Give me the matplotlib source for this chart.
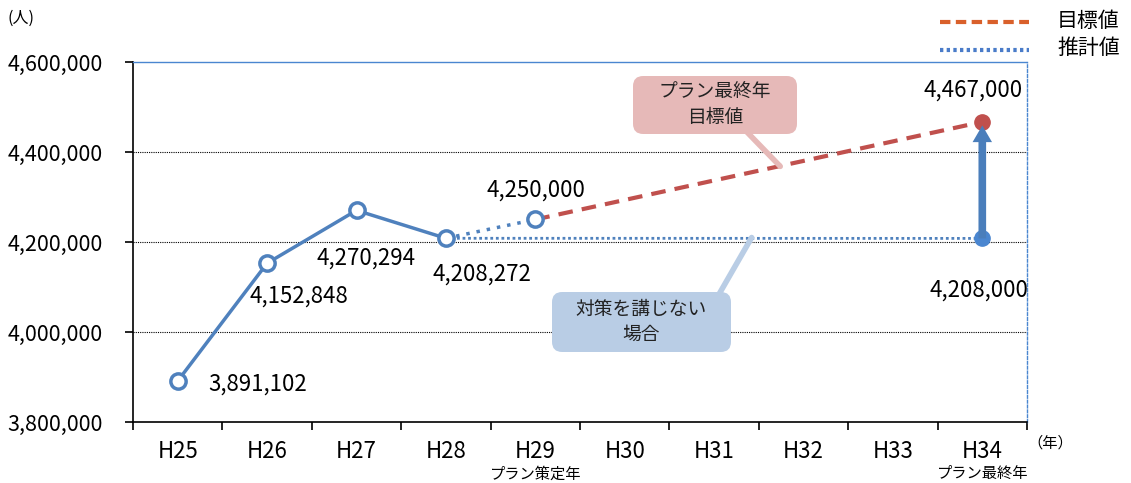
import matplotlib
matplotlib.use("Agg")
import matplotlib.pyplot as plt
from matplotlib.lines import Line2D
from matplotlib.patches import FancyBboxPatch

plt.rcParams['font.family'] = ['Noto Sans CJK JP', 'DejaVu Sans']

# data
years = ['H25', 'H26', 'H27', 'H28', 'H29', 'H30', 'H31', 'H32', 'H33', 'H34']
actual = [3891102, 4152848, 4270294, 4208272]
plan_start = 4250000   # H29
plan_goal = 4467000    # H34
no_action = 4208000    # H34
yticks = [3800000, 4000000, 4200000, 4400000, 4600000]

BLUE = '#4F81BD'
RED = '#C0504D'
W, H = 1131, 483

fig = plt.figure(figsize=(W / 100, H / 100), dpi=100)
ax = fig.add_axes([133 / W, 1 - 422 / H, 894 / W, 360 / H])

x = list(range(len(years)))
ax.set_xlim(-0.5, len(years) - 0.5)
ax.set_ylim(yticks[0], yticks[-1])

# grid
for v in yticks[1:-1]:
    ax.axhline(v, color='black', lw=0.8, ls=(0, (1, 1)), zorder=1)

# actual line
ax.plot(x[:4], actual, color=BLUE, lw=2.5, zorder=3)
# estimate to H29
ax.plot([x[3], x[4]], [actual[3], plan_start], color=BLUE, lw=2.5, ls=(0, (1, 2)), zorder=3)
# no action
ax.plot([x[3], x[9]], [actual[3], no_action], color=BLUE, lw=2, ls=(0, (1, 1)), zorder=3)
# target
ax.plot([x[4], x[9]], [plan_start, plan_goal], color=RED, lw=3, ls=(0, (3.5, 2.2)), zorder=3)

# markers
ax.plot(x[:4], actual, 'o', ms=11, mfc='white', mec=BLUE, mew=2.5, ls='none', zorder=5)
ax.plot(x[4], plan_start, 'o', ms=11, mfc='white', mec=BLUE, mew=2.5, zorder=5)
ax.plot(x[9], no_action, 'o', ms=11, color='#4A86D0', zorder=5)
ax.plot(x[9], plan_goal, 'o', ms=11, color=RED, zorder=4)

# arrow
ax.annotate('', xy=(x[9], plan_goal - 8000), xytext=(x[9], no_action),
            arrowprops=dict(arrowstyle='simple,head_width=1.4,head_length=1.2,tail_width=0.55',
                            color='#4A7EBB', lw=0, shrinkA=0, shrinkB=0), zorder=6)

# value labels
fs = 16
ax.text(0.89, 3884000, '3,891,102', fontsize=fs, ha='center', va='center')
ax.text(1.36, 4080000, '4,152,848', fontsize=fs, ha='center', va='center')
ax.text(2.11, 4164000, '4,270,294', fontsize=fs, ha='center', va='center')
ax.text(3.40, 4129000, '4,208,272', fontsize=fs, ha='center', va='center')
ax.text(4.01, 4316000, '4,250,000', fontsize=fs, ha='center', va='center')
ax.text(8.90, 4538000, '4,467,000', fontsize=fs, ha='center', va='center')
ax.text(8.96, 4093000, '4,208,000', fontsize=fs, ha='center', va='center')

# callouts (boxes in figure pixels)
def callout(text, box, target, root, color):
    x0, y0, x1, y1 = box
    fig.add_artist(FancyBboxPatch((x0 / W, 1 - y1 / H), (x1 - x0) / W, (y1 - y0) / H,
                                  boxstyle='round,pad=0,rounding_size=0.009',
                                  transform=fig.transFigure, fc=color, ec='none',
                                  mutation_aspect=W / H, zorder=7))
    fig.text((x0 + x1) / 2 / W, 1 - (y0 + y1) / 2 / H, text, fontsize=13.5, ha='center',
             va='center', linespacing=1.2, color='#222222', zorder=8)
    ax.annotate('', xy=target, xytext=(root[0], H - root[1]), textcoords='figure pixels',
                arrowprops=dict(arrowstyle='-', color=color, lw=4, shrinkA=0, shrinkB=0),
                zorder=6)

callout('プラン最終年\n目標値', (633, 76, 797, 134), (6.74, 4368000), (745, 130), '#E6B9B8')
callout('対策を講じない\n場合', (552, 292, 731, 352), (6.42, 4210000), (718, 296), '#B9CDE5')

# axes styling
for s in ['left', 'bottom']:
    ax.spines[s].set_color('black')
    ax.spines[s].set_linewidth(1.2)
ax.spines['top'].set_color('#4A86D0')
ax.spines['top'].set_linestyle((0, (1, 1)))
ax.spines['right'].set_color('#4A86D0')
ax.spines['right'].set_linestyle((0, (2, 1.5)))
ax.spines['top'].set_linewidth(1)
ax.spines['right'].set_linewidth(1)

ax.set_yticks(yticks)
ax.set_yticklabels([f'{v:,}' for v in yticks], fontsize=15.5)
ax.tick_params(axis='y', direction='out', length=6, width=1.2, pad=16)

ax.set_xticks(x)
ax.set_xticklabels(years, fontsize=16)
ax.set_xticks([i - 0.5 for i in range(len(years) + 1)], minor=True)
ax.tick_params(axis='x', which='major', length=0, pad=13)
ax.tick_params(axis='x', which='minor', direction='out', length=6, width=1.2)

# sub labels under x axis
ax.text(x[4], -0.144, 'プラン策定年', transform=ax.get_xaxis_transform(), fontsize=11,
        ha='center', va='center')
ax.text(x[9], -0.144, 'プラン最終年', transform=ax.get_xaxis_transform(), fontsize=11,
        ha='center', va='center')
ax.text(1.0, -0.058, '（年）', transform=ax.transAxes, fontsize=11, ha='left', va='center')
fig.text(0.007, 1 - 18 / H, '(人)', fontsize=11.5, ha='left', va='center')

# legend
fig.add_artist(Line2D([940 / W, 1029 / W], [1 - 22 / H, 1 - 22 / H], color='#D9602B', lw=3, ls=(0, (2.5, 1.3))))
fig.add_artist(Line2D([940 / W, 1029 / W], [1 - 50 / H, 1 - 50 / H], color='#4A7CC9', lw=3, ls=(0, (0.8, 0.8))))
fig.text(1057 / W, 1 - 21 / H, '目標値', fontsize=15, ha='left', va='center')
fig.text(1057 / W, 1 - 48 / H, '推計値', fontsize=15, ha='left', va='center')

fig.savefig('out.png', dpi=100)
